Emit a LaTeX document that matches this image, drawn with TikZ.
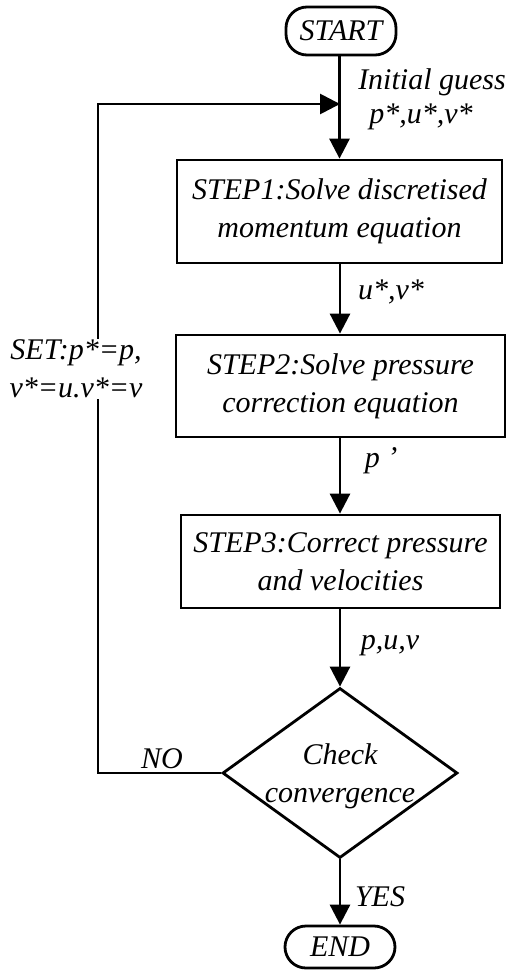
\documentclass[tikz,border=0pt]{standalone}
\usepackage{fontspec}
\setmainfont{Liberation Serif}
\usetikzlibrary{arrows.meta,shapes.geometric}
\tikzset{
  ln/.style={line width=2.8pt},
  arr/.style={ln,-{Triangle[length=20pt,width=20pt]}},
  box/.style={draw,ln,rectangle,inner sep=0pt,align=center,font=\fontsize{30}{38}\selectfont\itshape},
  term/.style={draw,ln,rectangle,rounded corners=21pt,inner sep=0pt,font=\fontsize{30}{38}\selectfont\itshape},
  lbl/.style={inner sep=1pt,align=center,font=\fontsize{30}{38}\selectfont\itshape},
}
\begin{document}
\begin{tikzpicture}[x=1pt,y=-1pt]
\useasboundingbox (0,0) rectangle (509,971);
\node[term,minimum width=110pt,minimum height=48pt] (start) at (341,31) {START};
\node[box,minimum width=325pt,minimum height=103pt] (s1) at (339.5,211.5) {STEP1:Solve discretised\\momentum equation};
\node[box,minimum width=329pt,minimum height=102pt] (s2) at (340.5,386) {STEP2:Solve pressure\\correction equation};
\node[box,minimum width=319pt,minimum height=93pt] (s3) at (340.5,561.5) {STEP3:Correct pressure\\and velocities};
\node[draw,ln,diamond,inner sep=0pt,minimum width=235pt,minimum height=170pt] (chk) at (340,773) {};
\node[lbl] (chkt) at (340,776) {Check\\convergence};
\node[term,minimum width=110pt,minimum height=42pt] (end) at (340,947) {END};

\coordinate (lpa) at (98,773);
\coordinate (lpb) at (98,104);
\coordinate (join) at (340,104);

\draw[arr] (start.south -| s1.north) -- (s1.north);
\draw[arr] (s1.south -| 340,0) -- (s2.north -| 340,0);
\draw[arr] (s2.south -| 340,0) -- (s3.north -| 340,0);
\draw[arr] (s3.south -| 340,0) -- (chk.north);
\draw[arr] (chk.south) -- (end.north);
\draw[arr] (chk.west) -- (lpa) -- (lpb) -- (join);

\node[lbl] (ig1) at (432,82) {Initial guess};
\node[lbl] (ig2) at (421,117) {p*,u*,v*};
\node[lbl] (uv) at (391,292) {u*,v*};
\node[lbl] (pp) at (381,461) {p ’};
\node[lbl] (puv) at (390,646) {p,u,v};
\node[lbl,fill=white] (set) at (76,369) {SET:p*=p,\\v*=u.v*=v};
\node[lbl] (no) at (162,759) {NO};
\node[lbl] (yes) at (380,897) {YES};
\end{tikzpicture}
\end{document}
